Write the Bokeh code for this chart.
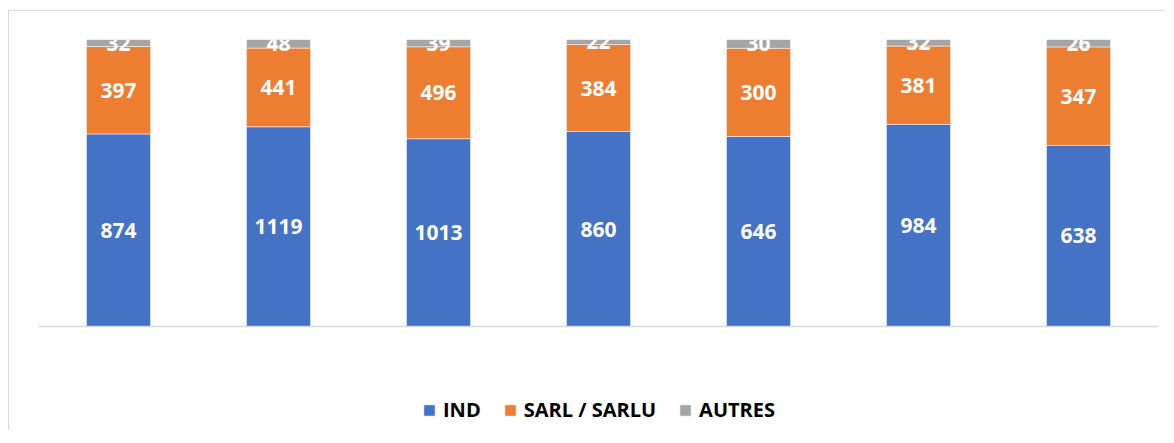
from bokeh.plotting import figure
from bokeh.models import ColumnDataSource, Legend, LegendItem, Range1d, FactorRange, Span
from bokeh.core.properties import value
from bokeh.embed import file_html
from bokeh.resources import INLINE

# ---- data ----
categories = ["1", "2", "3", "4", "5", "6", "7"]
ind = [874, 1119, 1013, 860, 646, 984, 638]
sarl = [397, 441, 496, 384, 300, 381, 347]
autres = [32, 48, 39, 22, 30, 32, 26]
series_names = ["IND", "SARL / SARLU", "AUTRES"]
colors = ["#4472C4", "#ED7D31", "#A5A5A5"]

# ---- 100% stacked shares ----
totals = [a + b + c for a, b, c in zip(ind, sarl, autres)]
s_ind = [a / t for a, t in zip(ind, totals)]
s_sarl = [b / t for b, t in zip(sarl, totals)]
s_aut = [c / t for c, t in zip(autres, totals)]

src = ColumnDataSource(dict(cat=categories, ind=s_ind, sarl=s_sarl, autres=s_aut))

lab_x, lab_y, lab_t = [], [], []
for i, c in enumerate(categories):
    base = 0.0
    for vals, shares in ((ind, s_ind), (sarl, s_sarl), (autres, s_aut)):
        lab_x.append(c)
        lab_y.append(base + shares[i] / 2)
        lab_t.append(str(vals[i]))
        base += shares[i]
lab_src = ColumnDataSource(dict(x=lab_x, y=lab_y, t=lab_t))

# frame: 287 px for the 0..1 stack, 105 px of room below for the legend
BAR_PX, BELOW_PX = 287, 105
p = figure(
    x_range=FactorRange(*categories, range_padding=0),
    y_range=Range1d(-BELOW_PX / BAR_PX, 1),
    width=1157, height=420,
    output_backend="svg", toolbar_location=None,
    min_border_left=29, min_border_right=8,
    min_border_top=28, min_border_bottom=0,
)
p.styles = {"border-top": "1px solid #d9d9d9", "border-left": "1px solid #d9d9d9",
            "margin-top": "10px", "margin-left": "8px"}

rs = p.vbar_stack(["ind", "sarl", "autres"], x="cat", width=0.4, color=colors,
                  line_color="white", line_width=0.5, source=src)

p.add_layout(Span(location=0, dimension="width", line_color="#d9d9d9", line_width=1.5))

p.text(x="x", y="y", text="t", source=lab_src, text_color="white",
       text_font=value("Open Sans"), text_font_style="bold",
       text_font_size="21px", text_align="center", text_baseline="middle")

p.xaxis.visible = False
p.yaxis.visible = False
p.xgrid.grid_line_color = None
p.ygrid.grid_line_color = None
p.outline_line_color = None

legend = Legend(
    items=[LegendItem(label=n, renderers=[r]) for n, r in zip(series_names, rs)],
    orientation="horizontal", location=(384, 8),
    glyph_width=14, glyph_height=14, label_standoff=7, spacing=22,
    padding=0, margin=0, border_line_color=None, background_fill_alpha=0,
    label_text_font="Open Sans", label_text_font_style="bold",
    label_text_font_size="20px", label_text_color="#000000",
)
p.add_layout(legend, "center")

open("out.html", "w").write(file_html(p, INLINE))
